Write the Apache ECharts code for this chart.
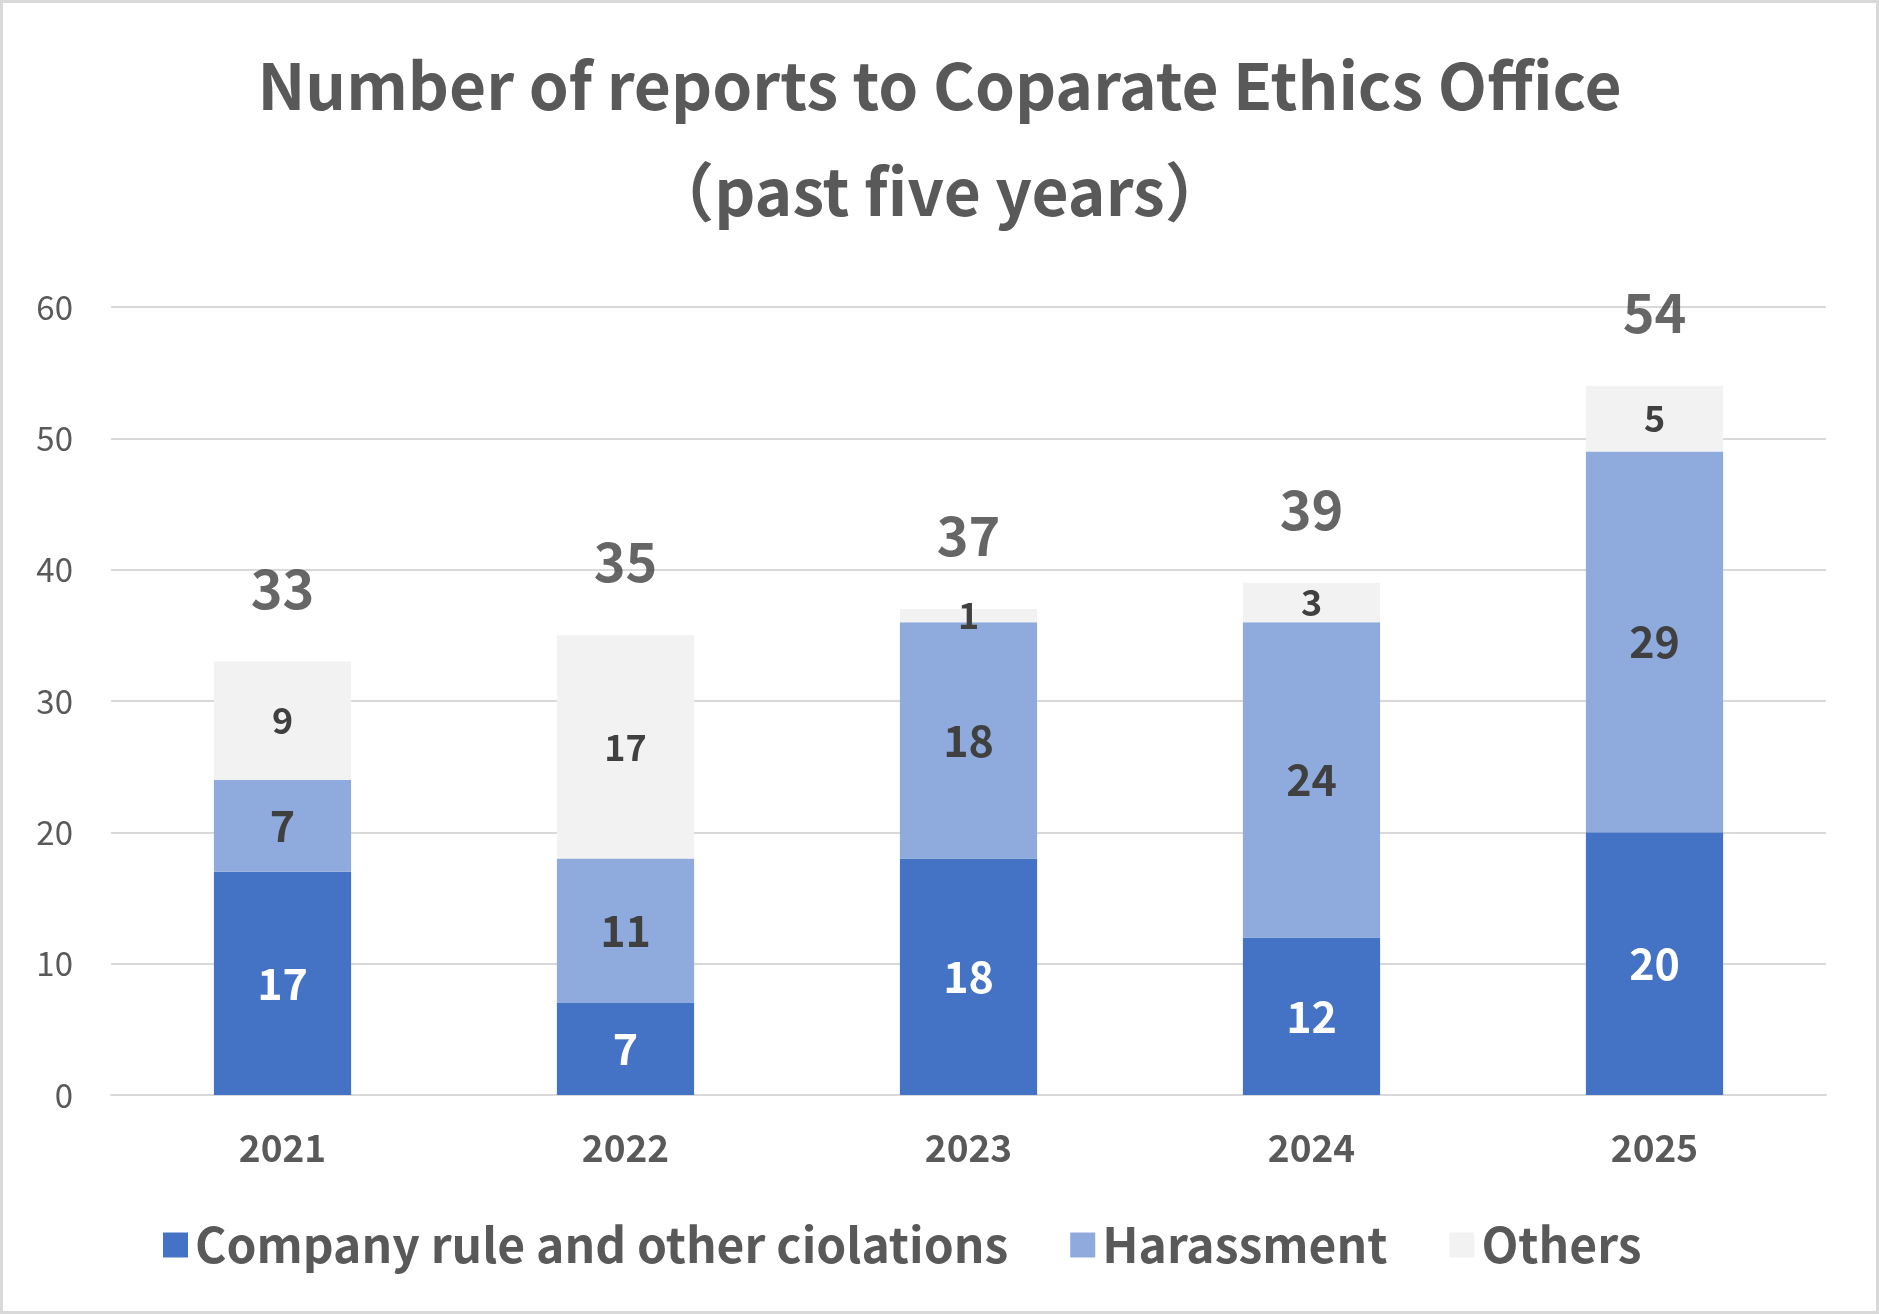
<!DOCTYPE html>
<html>
<head>
<meta charset="utf-8">
<script src="https://cdn.jsdelivr.net/npm/echarts@6/dist/echarts.min.js"></script>
<style>
html,body{margin:0;padding:0;background:#fff;}
#chart{width:1879px;height:1314px;}
</style>
</head>
<body>
<div id="chart"></div>
<script>
const years = ['2021', '2022', '2023', '2024', '2025'];
const companyRule = [17, 7, 18, 12, 20];
const harassment = [7, 11, 18, 24, 29];
const others = [9, 17, 1, 3, 5];
const totals = [33, 35, 37, 39, 54];
const yTicks = [0, 10, 20, 30, 40, 50, 60];

const FONT = "'Noto Sans CJK JP', 'Noto Sans', sans-serif";
const chart = echarts.init(document.getElementById('chart'));

const innerLabel = (color, size) => ({
  show: true, position: 'inside', color: color, fontSize: size,
  fontWeight: 'bold', fontFamily: FONT
});

chart.setOption({
  animation: false,
  backgroundColor: '#ffffff',
  title: {
    text: 'Number of reports to Coparate Ethics Office\n（past five years）',
    left: 'center', top: 28,
    textStyle: { fontFamily: FONT, fontSize: 64, fontWeight: 'bold', color: '#595959', lineHeight: 106 }
  },
  graphic: [{
    type: 'rect', silent: true,
    shape: { x: 1.5, y: 1.5, width: 1876, height: 1311 },
    style: { fill: 'none', stroke: '#d9d9d9', lineWidth: 3 }
  }],
  legend: {
    data: ['Company rule and other ciolations', 'Harassment', 'Others'],
    left: 158, top: 1216,
    itemWidth: 25, itemHeight: 25, itemGap: 62,
    icon: 'rect',
    textStyle: { fontFamily: FONT, fontSize: 48, fontWeight: 'bold', color: '#595959', padding: [0, 0, 0, 2] }
  },
  grid: { left: 111, right: 53, top: 307, bottom: 1314 - 1095, containLabel: false },
  xAxis: {
    type: 'category', data: years,
    axisLine: { show: true, lineStyle: { color: '#d9d9d9', width: 2 } },
    axisTick: { show: false },
    axisLabel: { fontFamily: FONT, fontSize: 37, fontWeight: 'bold', color: '#595959', margin: 34 }
  },
  yAxis: {
    type: 'value', min: yTicks[0], max: yTicks[yTicks.length - 1], interval: 10,
    axisLine: { show: false }, axisTick: { show: false },
    splitLine: { lineStyle: { color: '#d9d9d9', width: 2 } },
    axisLabel: { fontFamily: FONT, fontSize: 33, color: '#595959', margin: 38 }
  },
  series: [
    {
      name: 'Company rule and other ciolations', type: 'bar', stack: 'total',
      data: companyRule, barCategoryGap: '60%',
      itemStyle: { color: '#4472C4' },
      label: innerLabel('#ffffff', 43)
    },
    {
      name: 'Harassment', type: 'bar', stack: 'total',
      data: harassment, barCategoryGap: '60%',
      itemStyle: { color: '#8FAADC' },
      label: innerLabel('#404040', 43)
    },
    {
      name: 'Others', type: 'bar', stack: 'total',
      data: others, barCategoryGap: '60%',
      itemStyle: { color: '#F2F2F2' },
      label: innerLabel('#404040', 36)
    },
    {
      name: 'Total', type: 'scatter', data: totals,
      symbolSize: 1, itemStyle: { color: 'rgba(0,0,0,0)' }, silent: true,
      label: { show: true, position: 'top', distance: 46, fontFamily: FONT, fontSize: 54, fontWeight: 'bold', color: '#404040' }
    }
  ]
});
</script>
</body>
</html>
